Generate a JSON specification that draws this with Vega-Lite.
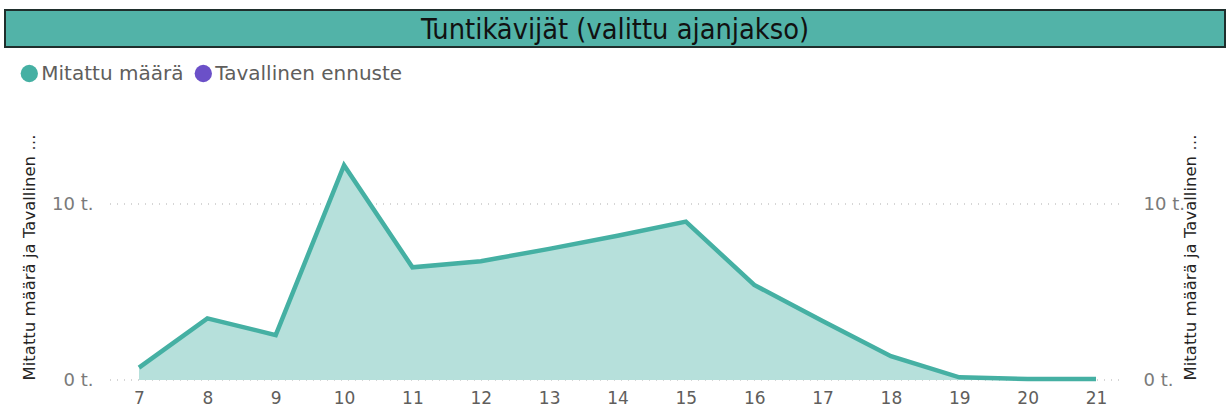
{
  "$schema": "https://vega.github.io/schema/vega-lite/v6.json",
  "padding": {"left": 4, "top": 9, "right": 0, "bottom": 0},
  "background": "white",
  "spacing": 0,
  "resolve": {"legend": {"color": "independent"}},
  "config": {"view": {"stroke": null}},
  "vconcat": [
    {
      "width": 1220,
      "height": 37,
      "view": {"fill": "#52B3A8", "stroke": "#1F2E2C", "strokeWidth": 2},
      "data": {"values": [{"t": "Tuntikävijät (valittu ajanjakso)"}]},
      "mark": {"type": "text", "font": "DejaVu Sans Condensed", "fontSize": 28.7, "color": "#111111", "dy": 1},
      "encoding": {"text": {"field": "t"}}
    },
    {
      "width": 1220,
      "height": 264,
      "data": {
        "values": [
          {"hour": 7, "value": 0.7, "series": "Mitattu määrä"},
          {"hour": 8, "value": 3.5, "series": "Mitattu määrä"},
          {"hour": 9, "value": 2.55, "series": "Mitattu määrä"},
          {"hour": 10, "value": 12.2, "series": "Mitattu määrä"},
          {"hour": 11, "value": 6.4, "series": "Mitattu määrä"},
          {"hour": 12, "value": 6.75, "series": "Mitattu määrä"},
          {"hour": 13, "value": 7.45, "series": "Mitattu määrä"},
          {"hour": 14, "value": 8.2, "series": "Mitattu määrä"},
          {"hour": 15, "value": 9.0, "series": "Mitattu määrä"},
          {"hour": 16, "value": 5.4, "series": "Mitattu määrä"},
          {"hour": 17, "value": 3.35, "series": "Mitattu määrä"},
          {"hour": 18, "value": 1.35, "series": "Mitattu määrä"},
          {"hour": 19, "value": 0.15, "series": "Mitattu määrä"},
          {"hour": 20, "value": 0.05, "series": "Mitattu määrä"},
          {"hour": 21, "value": 0.05, "series": "Mitattu määrä"}
        ]
      },
      "layer": [
        {
          "data": {"values": [{"tick": 0}, {"tick": 10}]},
          "mark": {"type": "rule", "color": "#C8C8C8", "strokeDash": [1, 6], "strokeWidth": 1.5},
          "encoding": {
            "x": {"datum": 6.576, "type": "quantitative"},
            "x2": {"datum": 21.425},
            "y": {"field": "tick", "type": "quantitative", "axis": null, "scale": {"domain": [0, 15], "nice": false}}
          }
        },
        {
          "mark": {"type": "area", "color": "#B6E0DB"},
          "encoding": {
            "x": {
              "field": "hour", "type": "quantitative",
              "scale": {"domain": [5.0397, 22.887], "nice": false, "zero": false},
              "axis": {"title": null, "values": [7, 8, 9, 10, 11, 12, 13, 14, 15, 16, 17, 18, 19, 20, 21], "format": "d",
                       "labelAngle": 0, "domain": false, "ticks": false, "grid": false, "labelFlush": false, "labelOverlap": false,
                       "labelFont": "DejaVu Sans", "labelFontSize": 17, "labelColor": "#605E5C", "labelPadding": 10}
            },
            "y": {
              "field": "value", "type": "quantitative",
              "scale": {"domain": [0, 15], "nice": false},
              "axis": {
                "orient": "left", "offset": -105, "values": [0, 10], "labelExpr": "datum.value + ' t.'",
                "domain": false, "ticks": false, "grid": false,
                "labelFont": "DejaVu Sans", "labelFontSize": 18, "labelColor": "#7A7A7A", "labelPadding": 17,
                "title": "Mitattu määrä ja Tavallinen ennuste", "titleFont": "DejaVu Sans", "titleFontSize": 16.5,
                "titleFontWeight": "normal", "titleColor": "#252423", "titleLimit": 252, "titleAnchor": "start", "titlePadding": 14
              }
            }
          }
        },
        {
          "mark": {"type": "line", "strokeWidth": 4.5},
          "encoding": {
            "x": {"field": "hour", "type": "quantitative"},
            "y": {
              "field": "value", "type": "quantitative",
              "scale": {"domain": [0, 15], "nice": false},
              "axis": {
                "orient": "right", "offset": -100, "values": [0, 10], "labelExpr": "datum.value + ' t.'",
                "domain": false, "ticks": false, "grid": false,
                "labelFont": "DejaVu Sans", "labelFontSize": 18, "labelColor": "#7A7A7A", "labelPadding": 18,
                "title": "Mitattu määrä ja Tavallinen ennuste", "titleFont": "DejaVu Sans", "titleFontSize": 16.5,
                "titleFontWeight": "normal", "titleColor": "#252423", "titleLimit": 252, "titleAnchor": "start", "titleAngle": 270, "titlePadding": 14
              }
            },
            "color": {
              "field": "series", "type": "nominal",
              "scale": {"domain": ["Mitattu määrä", "Tavallinen ennuste"], "range": ["#45B0A3", "#6B50C8"]},
              "legend": {
                "title": null, "orient": "none", "legendX": -0.7, "legendY": -67.5, "direction": "horizontal",
                "padding": 15, "symbolType": "circle", "symbolSize": 300, "labelFont": "DejaVu Sans", "labelFontSize": 20,
                "labelColor": "#605E5C", "columnPadding": 9, "labelOffset": 2, "labelLimit": 400,
                "encode": {"symbols": {"update": {"fill": {"scale": "color", "field": "value"}, "strokeWidth": {"value": 0}}}}
              }
            }
          }
        }
      ],
      "resolve": {"scale": {"y": "independent"}}
    }
  ]
}
